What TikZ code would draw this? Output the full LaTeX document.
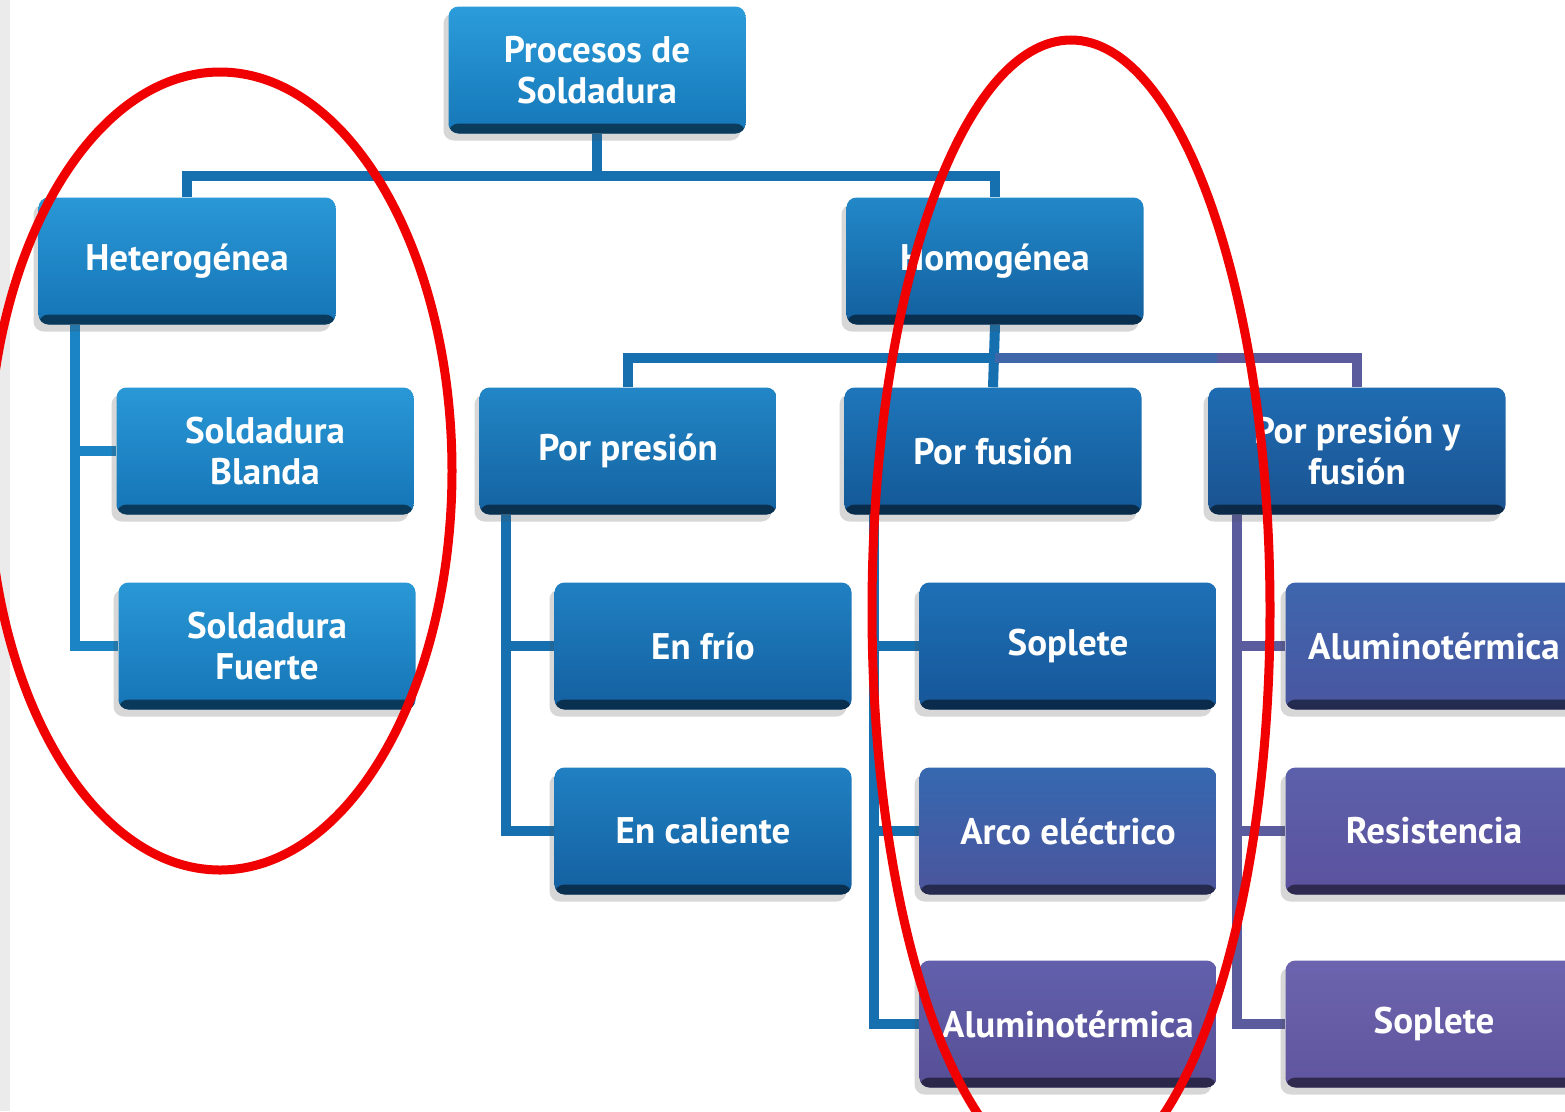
\documentclass[tikz,border=0pt]{standalone}
\usepackage{fontspec}
\setmainfont{PT Sans}
\usetikzlibrary{shadows,backgrounds,calc}
\definecolor{lineblue}{HTML}{1670B0}
\definecolor{linelight}{HTML}{1A84C4}
\definecolor{linepurple}{HTML}{5A5C9E}
\definecolor{linemix}{HTML}{3E66A8}
\definecolor{ringred}{HTML}{F00000}
\tikzset{
  box/.style 2 args={draw=none, rounded corners=10pt, minimum width=297pt,
    minimum height=127pt, inner sep=0pt, align=center, text=white,
    font=\bfseries\fontsize{37}{41}\selectfont,
    /utils/exec={\definecolor{boxtop}{HTML}{#1}\definecolor{boxbot}{HTML}{#2}},
    top color=boxtop, bottom color=boxbot,
    drop shadow={shadow xshift=-5pt, shadow yshift=-7pt, opacity=0.22, fill=black!70},
    path picture={\fill[black, opacity=0.5] (path picture bounding box.south west)
      rectangle ([yshift=10pt]path picture bounding box.south east);}},
  conn/.style={line width=10pt, draw=lineblue},
  connl/.style={line width=10pt, draw=linelight},
  connp/.style={line width=10pt, draw=linepurple},
  connm/.style={line width=10pt, draw=linemix},
  ring/.style={draw=ringred, line width=9pt},
}
\begin{document}
\begin{tikzpicture}[x=1pt,y=-1pt]
\useasboundingbox (0,0) rectangle (1565,1111);

% level 0
\node[box={2C9CDA}{1577B8}] (proc) at (597,70) {Procesos de\\Soldadura};
% level 1
\node[box={2A98D6}{1574B6}] (het) at (187,261) {Heterogénea};
\node[box={2288C8}{135F9E}] (hom) at (995,261) {Homogénea};
% level 2
\node[box={2A98D6}{1574B6}] (blanda) at (265,451) {Soldadura\\Blanda};
\node[box={2A98D6}{1574B6}] (fuerte) at (267,646) {Soldadura\\Fuerte};
\node[box={2286C6}{1462A0}] (ppres) at (628,451) {Por presión};
\node[box={1E76BA}{135896}] (pfus) at (993,451) {Por fusión};
\node[box={1F6CB2}{1A5290}] (ppf) at (1357,451) {Por presión y\\fusión};
% level 3
\node[box={2080C2}{1460A0}] (frio) at (703,646) {En frío};
\node[box={2080C2}{1460A0}] (cal) at (703,831) {En caliente};
\node[box={1E70B6}{165698}] (sop1) at (1068,646) {Soplete};
\node[box={3568B0}{4C559C}] (arco) at (1068,831) {Arco eléctrico};
\node[box={6260AC}{574F96}] (alu1) at (1068,1024) {Aluminotérmica};
\node[box={3E66AE}{4A56A0}] (alu2) at (1434,646) {Aluminotérmica};
\node[box={5C60AA}{5C529E}] (res) at (1434,831) {Resistencia};
\node[box={6C64AE}{60559E}] (sop2) at (1434,1024) {Soplete};

\coordinate (bus1) at (0,176);
\coordinate (bus2) at (0,358);
\coordinate (hv) at ([xshift=37pt]het.south west);
\coordinate (pv) at ([xshift=27pt]ppres.south west);
\coordinate (fv) at ([xshift=30pt]pfus.south west);
\coordinate (qv) at ([xshift=29pt]ppf.south west);

\begin{scope}[on background layer]
  \fill[white] (0,0) rectangle (1565,1111);
  \fill[black!8] (0,0) rectangle (10,1111);
  \draw[conn] (proc.south) -- (proc.south |- bus1);
  \draw[conn] (het.north) |- (bus1 -| hom.north) -- (hom.north);
  \draw[connl] (hv) |- (fuerte.west);
  \draw[connl] (hv |- blanda.west) -- (blanda.west);
  \draw[conn] (hom.south) -- (pfus.north);
  \draw[conn] (ppres.north) |- (bus2 -| hom.south);
  \draw[connm] (bus2 -| hom.south) -- (bus2 -| sop1.east);
  \draw[connp] (bus2 -| sop1.east) -| (ppf.north);
  \draw[conn] (pv) |- (cal.west);
  \draw[conn] (pv |- frio.west) -- (frio.west);
  \draw[conn] (fv) |- (alu1.west);
  \draw[conn] (fv |- sop1.west) -- (sop1.west);
  \draw[conn] (fv |- arco.west) -- (arco.west);
  \draw[connp] (qv) |- (sop2.west);
  \draw[connp] (qv |- alu2.west) -- (alu2.west);
  \draw[connp] (qv |- res.west) -- (res.west);
\end{scope}

\draw[ring] (220,471) ellipse [x radius=232pt, y radius=399pt];
\draw[ring] (1071,610) ellipse [x radius=199pt, y radius=570pt];
\end{tikzpicture}
\end{document}
